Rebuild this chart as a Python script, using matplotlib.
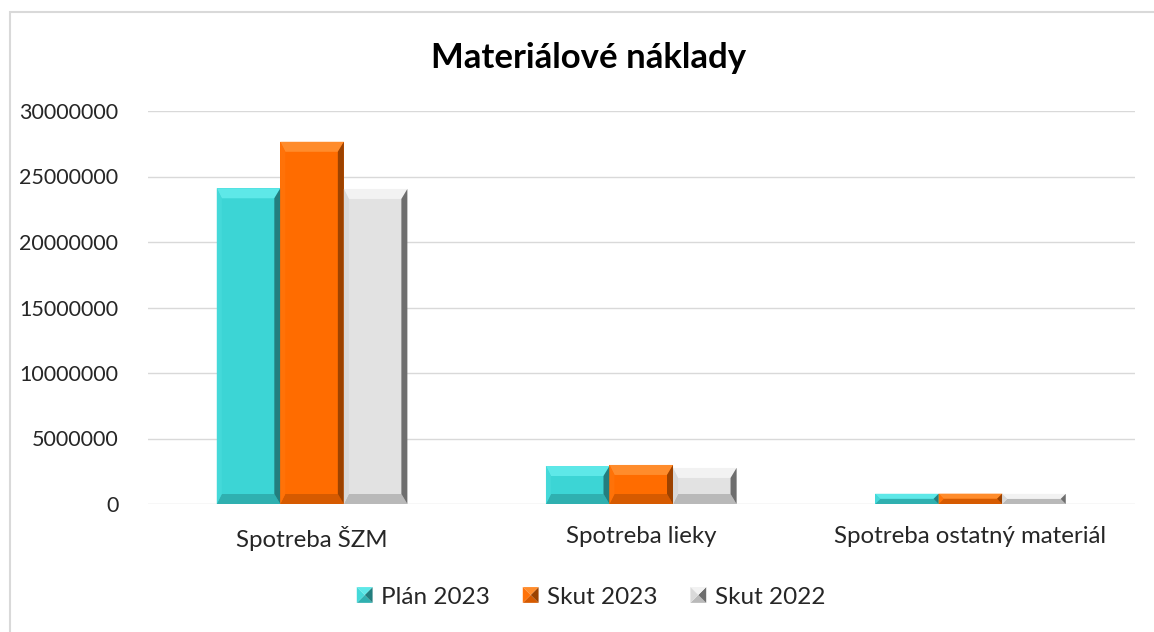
import numpy as np
import matplotlib.pyplot as plt
from matplotlib.patches import Polygon, Rectangle
from matplotlib.legend_handler import HandlerBase
from matplotlib.transforms import IdentityTransform

plt.rcParams['font.family'] = ['Lato', 'DejaVu Sans']

kategorie = ['Spotreba ŠZM', 'Spotreba lieky', 'Spotreba ostatný materiál']
serie = ['Plán 2023', 'Skut 2023', 'Skut 2022']
plan_2023 = [24100000, 2900000, 780000]
skut_2023 = [27650000, 2980000, 790000]
skut_2022 = [24050000, 2750000, 770000]
yticks = [0, 5000000, 10000000, 15000000, 20000000, 25000000, 30000000]

# face, top, left, right, bottom
farby = [
    ('#3cd5d5', '#5ee8e8', '#44d9d9', '#237e7e', '#2fb0b0'),
    ('#ff6c00', '#ff8c2c', '#ff7208', '#9c4200', '#d65a00'),
    ('#e2e2e2', '#f2f2f2', '#d9d9d9', '#6e6e6e', '#b9b9b9'),
]

W, H = 1154, 632
fig = plt.figure(figsize=(W / 100, H / 100), dpi=100)
ax = fig.add_axes([147.5 / W, (H - 504) / H, (1135 - 147.5) / W, 393 / H])

x = np.arange(len(kategorie))
w = 0.193
data = [plan_2023, skut_2023, skut_2022]
bary = []
for i, (vals, f) in enumerate(zip(data, farby)):
    b = ax.bar(x + (i - 1) * w, vals, w, color=f[0], label=serie[i], zorder=3)
    bary.append(b)

ax.set_xlim(-0.5, len(kategorie) - 0.5)
ax.set_ylim(0, 30000000)
ax.set_yticks(yticks)
ax.set_yticklabels([str(v) for v in yticks])
ax.set_xticks(x)
ax.set_xticklabels(kategorie, fontsize=17.3)
ax.tick_params(axis='both', length=0, colors='#262626')
ax.tick_params(axis='y', labelsize=15.5, pad=21)
ax.tick_params(axis='x', pad=16)
ax.grid(axis='y', color='#d9d9d9', lw=1, zorder=0)
for s in ax.spines.values():
    s.set_visible(False)

# bevel facets, computed from the bar geometry in pixel space
inv = ax.transData.inverted()
for b, f in zip(bary, farby):
    for r in b.patches:
        (x0, y0), (x1, y1) = ax.transData.transform(
            [(r.get_x(), r.get_y()), (r.get_x() + r.get_width(), r.get_y() + r.get_height())])
        d = min(10, (y1 - y0) / 2)
        dl = min(5, d)
        dr = min(6, d)
        facets = [
            (f[1], [(x0, y1), (x1, y1), (x1 - dr, y1 - d), (x0 + dl, y1 - d)]),
            (f[4], [(x0, y0), (x1, y0), (x1 - dr, y0 + d), (x0 + dl, y0 + d)]),
            (f[2], [(x0, y0), (x0, y1), (x0 + dl, y1 - d), (x0 + dl, y0 + d)]),
            (f[3], [(x1, y0), (x1, y1), (x1 - dr, y1 - d), (x1 - dr, y0 + d)]),
        ]
        for c, pts in facets:
            ax.add_patch(Polygon(inv.transform(pts), closed=True, color=c, lw=0, zorder=4))


class PyramidHandler(HandlerBase):
    def __init__(self, cols):
        super().__init__()
        self.cols = cols

    def create_artists(self, legend, orig_handle, xdescent, ydescent, width, height, fontsize, trans):
        f = self.cols[serie.index(orig_handle.get_label())]
        s = min(width, height)
        x0, y0 = -xdescent + (width - s) / 2, -ydescent + (height - s) / 2
        cx, cy = x0 + s / 2, y0 + s / 2
        corners = [(x0, y0), (x0 + s, y0), (x0 + s, y0 + s), (x0, y0 + s)]
        cl = [f[4], f[3], f[1], f[2]]
        arts = []
        for k in range(4):
            p = Polygon([corners[k], corners[(k + 1) % 4], (cx, cy)], closed=True,
                        color=cl[k], lw=0, transform=trans)
            arts.append(p)
        return arts


handles = [b.patches[0] for b in bary]
for h, s in zip(handles, serie):
    h.set_label(s)
leg = fig.legend(handles, serie, loc='center', bbox_to_anchor=(591 / W, (H - 597) / H),
                 ncol=3, frameon=False, fontsize=17.5, handlelength=0.65, handleheight=0.65,
                 handletextpad=0.35, columnspacing=1.35,
                 handler_map={type(handles[0]): PyramidHandler(farby)})
for t in leg.get_texts():
    t.set_color('#262626')

fig.text(589 / W, (H - 58) / H, 'Materiálové náklady', ha='center', va='center',
         fontsize=25, fontweight='bold', color='#000000')

fig.add_artist(Rectangle((10, -50), W + 50, H - 12 + 50, fill=False, edgecolor='#d9d9d9',
                         lw=1.5, transform=IdentityTransform()))

fig.savefig('out.png', dpi=100)
